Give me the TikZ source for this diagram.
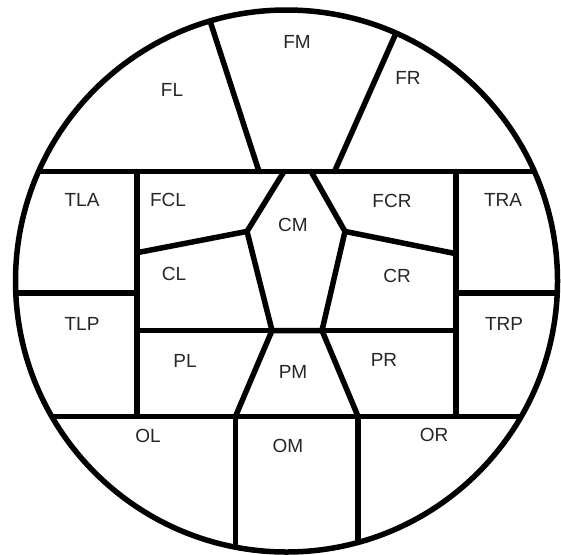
\documentclass[tikz,border=0pt]{standalone}
\usepackage{fontspec}
\setmainfont{Liberation Sans}

\begin{document}
\begin{tikzpicture}[
  x=1pt, y=-1pt,
  wall/.style={line width=5.5pt, line cap=round, line join=miter},
  region/.style={font=\fontsize{19}{19}\selectfont, text=black!85, inner sep=0pt}
]
\useasboundingbox (0,0) rectangle (561,554);
\coordinate (mid) at (286.5,281);
% corners of the central pieces
\coordinate (cmtl) at (284,171.5);
\coordinate (cmtr) at (311,171.5);
\coordinate (cml) at (247,231.4);
\coordinate (cmr) at (345,231.4);
\coordinate (cmbl) at (272,330.5);
\coordinate (cmbr) at (322,330.5);
\coordinate (oml) at (235.5,416.3);
\coordinate (omr) at (358,416.3);

\begin{scope}
  \clip (mid) circle[radius=271];
  \draw[wall] (0,171.5) -- (561,171.5);
  \draw[wall] (0,293) -- (137,293);
  \draw[wall] (456,293) -- (561,293);
  \draw[wall] (0,416.3) -- (561,416.3);
  \draw[wall] (137,171.5) -- (137,416.3);
  \draw[wall] (456,171.5) -- (456,416.3);
  \draw[wall] (137,330.5) -- (456,330.5);
  \draw[wall] (oml) -- (235.5,560);
  \draw[wall] (omr) -- (358,560);
  \draw[wall] (203.2,0) -- (259,171.5);
  \draw[wall] (410.7,0) -- (334.5,171.5);
  \draw[wall] (cmtl) -- (cml) -- (cmbl) -- (cmbr) -- (cmr) -- (cmtr);
  \draw[wall] (137,252.7) -- (cml);
  \draw[wall] (cmr) -- (456,253.7);
  \draw[wall] (cmbl) -- (oml);
  \draw[wall] (cmbr) -- (omr);
\end{scope}
\draw[line width=5.5pt] (mid) circle[radius=271];

% region labels
\node[region] (FM) at (297,41.7) {FM};
\node[region] (FL) at (172,90.1) {FL};
\node[region] (FR) at (408,77.7) {FR};
\node[region] (TLA) at (82,199.6) {TLA};
\node[region] (FCL) at (168,199.6) {FCL};
\node[region] (CM) at (293,225.4) {CM};
\node[region] (FCR) at (392,200.7) {FCR};
\node[region] (TRA) at (503,199.6) {TRA};
\node[region] (CL) at (174,273.9) {CL};
\node[region] (CR) at (397,275.6) {CR};
\node[region] (TLP) at (82,324.4) {TLP};
\node[region] (TRP) at (504,324.4) {TRP};
\node[region] (PL) at (185,361.1) {PL};
\node[region] (PM) at (293,372.1) {PM};
\node[region] (PR) at (384,360.4) {PR};
\node[region] (OL) at (148,435.7) {OL};
\node[region] (OM) at (288,446.3) {OM};
\node[region] (OR) at (434,434.6) {OR};
\end{tikzpicture}
\end{document}
